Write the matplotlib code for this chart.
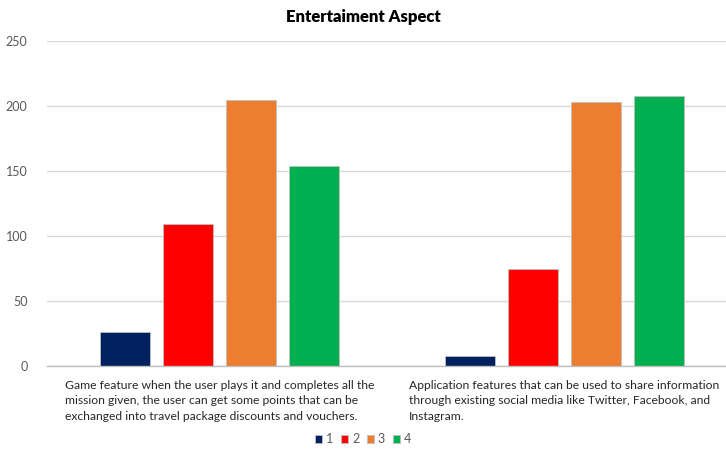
import numpy as np
import matplotlib
matplotlib.use("Agg")
import matplotlib.pyplot as plt

categories = [
    "Game feature when the user plays it and completes all the\n"
    "mission given, the user can get some points that can be\n"
    "exchanged into travel package discounts and vouchers.",
    "Application features that can be used to share information\n"
    "through existing social media like Twitter, Facebook, and\n"
    "Instagram.",
]
series_names = ["1", "2", "3", "4"]
values_1 = [26, 8]
values_2 = [109, 75]
values_3 = [205, 203]
values_4 = [154, 208]
colors = ["#002060", "#FF0000", "#ED7D31", "#00B050"]

plt.rcParams['font.family'] = ['Lato', 'DejaVu Sans']

fig = plt.figure(figsize=(7.26, 4.5), dpi=100)
# axes run slightly past the right edge, as in the reference
ax = fig.add_axes([47/726, 1 - 366/450, 690/726, 325/450])

x = np.arange(len(categories))
width = 0.145
step = 0.1826
series = [values_1, values_2, values_3, values_4]
for i, (vals, name, col) in enumerate(zip(series, series_names, colors)):
    ax.bar(x + (i - 1.5) * step, vals, width, color=col, label=name,
           edgecolor="#BFBFBF", linewidth=0.6, zorder=3)

ax.set_xlim(-0.5, 1.5)
ax.set_ylim(0, 250)
ax.set_yticks(range(0, 251, 50))
ax.yaxis.grid(True, color="#D9D9D9", linewidth=1, zorder=0)
ax.set_xticks(x)
ax.set_xticklabels(categories, multialignment="left", fontsize=8.7, color="#262626",
                   linespacing=1.5)
ax.tick_params(axis="x", length=0, pad=10)
ax.tick_params(axis="y", length=0, labelsize=9, labelcolor="#595959", pad=14)
for s in ["top", "right", "left"]:
    ax.spines[s].set_visible(False)
ax.spines["bottom"].set_color("#BFBFBF")
ax.spines["bottom"].set_linewidth(1)
ax.spines["bottom"].set_zorder(4)

fig.text(363/726, 1 - 17/450, "Entertaiment Aspect", ha="center", va="center",
         fontsize=12, fontweight="heavy", color="black")

fig.legend(loc="center", bbox_to_anchor=(363/726, 1 - 439/450), ncol=4, frameon=False,
           fontsize=9, handlelength=0.6, handleheight=0.6, handletextpad=0.3,
           columnspacing=0.6, labelcolor="#595959")

fig.savefig("out.png", dpi=100)
